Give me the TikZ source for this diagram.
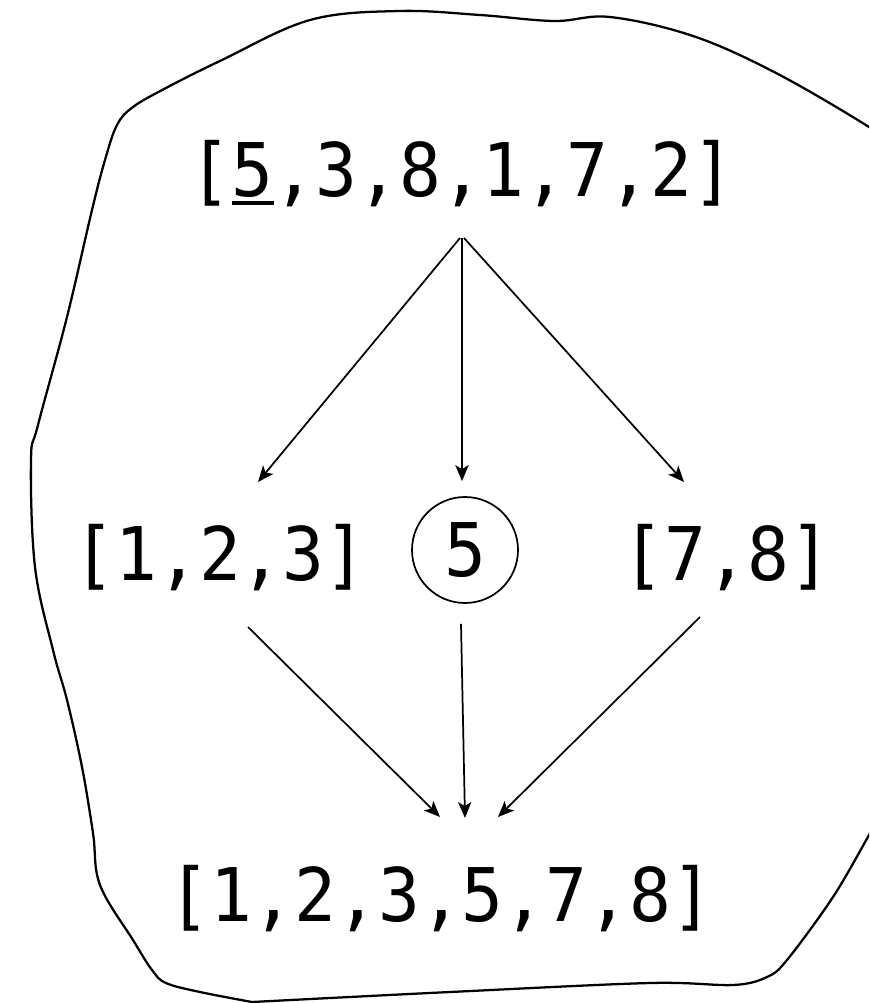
\documentclass[tikz,border=0pt]{standalone}
\usepackage{fontspec}
\usetikzlibrary{arrows.meta,calc}
\newfontfamily\monofnt[FakeStretch=0.94]{DejaVu Sans Mono}
\newcommand\myul[1]{\makebox[0pt][l]{\rule[-6.4pt]{0.566em}{2.3pt}}#1}
\begin{document}
\begin{tikzpicture}[x=0.75pt,y=-0.75pt,
  lbl/.style={inner sep=0pt,anchor=base,font=\monofnt\fontsize{55.5}{60}\selectfont},
  circ/.style={circle,draw,line width=1.3pt,inner sep=0pt,minimum size=106*0.75pt,font=\monofnt\fontsize{55.5}{60}\selectfont},
  arr/.style={line width=1.3pt,-{Stealth[length=12pt,width=10pt,inset=3pt]}},
  blob/.style={line width=1.7pt,line join=round}]
\useasboundingbox (0,0) rectangle (869,1003);
\clip (0,0) rectangle (869,1003);
% outline
\draw[blob] plot[smooth,tension=0.6] coordinates {(890,145) (869,127) (776,73) (693,36) (610,17) (554,21) (480,15) (399,11) (310,20) (222,60) (166,88) (133,107) (117,125) (105,160) (92,210) (67,317) (38,425) (31,460) (35,567) (53,650) (67,700) (82,767) (93,833) (100,885) (133,940) (152,970) (166,983) (200,992) (252,1002)};
\draw[blob] plot[smooth,tension=0.55] coordinates {(252,1002) (450,992) (650,983) (733,985) (767,977) (787,960) (833,897) (869,835) (885,805)};
% nodes
\node[lbl] (t) at (462,196) {[\myul{5},3,8,1,7,2]};
\node[lbl] (l) at (220,580) {[1,2,3]};
\node[circ] (m) at (465,550) {5};
\node[lbl] (r) at (727,580) {[7,8]};
\node[lbl] (b) at (441,921) {[1,2,3,5,7,8]};
% connectors
\draw[arr] ($(t.base)+(-2,42)$) -- ($(l.base)+(38,-98)$);
\draw[arr] ($(t.base)+(0,42)$) -- ($(m.north)+(-3,-15)$);
\draw[arr] ($(t.base)+(2,42)$) -- ($(r.base)+(-43,-98)$);
\draw[arr] ($(l.base)+(28,47)$) -- ($(b.base)+(-1,-104)$);
\draw[arr] ($(m.south)+(-4,20)$) -- ($(b.base)+(24,-103)$);
\draw[arr] ($(r.base)+(-27,37)$) -- ($(b.base)+(57,-104)$);
\end{tikzpicture}
\end{document}
